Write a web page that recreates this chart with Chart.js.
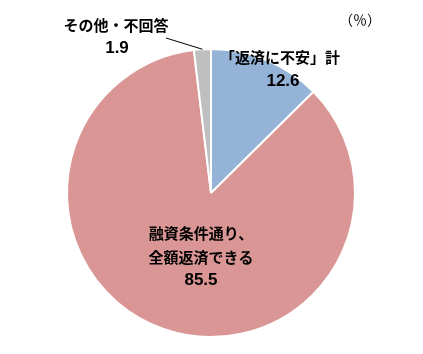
<!DOCTYPE html>
<html>
<head>
<meta charset="utf-8">
<script src="https://cdn.jsdelivr.net/npm/chart.js@4.4.0/dist/chart.umd.min.js"></script>
<style>
    html, body { margin: 0; padding: 0; background: #fff; }
    #wrap { width: 423px; height: 354px; position: relative; }
</style>
</head>
<body>
<div id="wrap"><canvas id="myChart"></canvas></div>
<script>
// Data Definitions
const categories = ['「返済に不安」計', '融資条件通り、\n全額返済できる', 'その他・不回答'];
const values = [12.6, 85.5, 1.9];
const sliceColors = ['#95B3D7', '#D99694', '#BFBFBF'];
const unitLabel = '（％）';

const jpFont = '"Noto Sans CJK JP", "Noto Sans", sans-serif';
const numFont = 'bold 17px "Liberation Sans", Arial, sans-serif';

// Draw slice labels and the leader line for the small slice
const labelPlugin = {
    id: 'sliceLabels',
    afterDatasetsDraw(chart) {
        const ctx = chart.ctx;
        const arcs = chart.getDatasetMeta(0).data;
        ctx.save();
        ctx.fillStyle = '#000';
        ctx.textAlign = 'center';
        ctx.textBaseline = 'middle';

        // unit
        ctx.font = '14px ' + jpFont;
        ctx.fillText(unitLabel, 360, 20);

        // blue slice
        ctx.font = 'bold 15px ' + jpFont;
        ctx.fillText(categories[0], 280, 57);
        ctx.font = numFont;
        ctx.fillText(values[0].toFixed(1), 283, 81);

        // pink slice
        const lines = categories[1].split('\n');
        ctx.font = 'bold 15px ' + jpFont;
        ctx.fillText(lines[0], 201, 233);
        ctx.fillText(lines[1], 201, 257);
        ctx.font = numFont;
        ctx.fillText(values[1].toFixed(1), 201, 280);

        // gray slice, outside with leader line
        ctx.font = 'bold 15px ' + jpFont;
        ctx.fillText(categories[2], 116, 25);
        ctx.font = numFont;
        ctx.fillText(values[2].toFixed(1), 117, 48);

        const a = arcs[2];
        const mid = (a.startAngle + a.endAngle) / 2;
        const px = a.x + Math.cos(mid) * a.outerRadius;
        const py = a.y + Math.sin(mid) * a.outerRadius;
        ctx.strokeStyle = '#000';
        ctx.lineWidth = 1;
        ctx.beginPath();
        ctx.moveTo(166, 38);
        ctx.lineTo(px, py);
        ctx.stroke();
        ctx.restore();
    }
};

const ctx = document.getElementById('myChart').getContext('2d');
new Chart(ctx, {
    type: 'pie',
    data: {
        labels: categories,
        datasets: [{
            data: values,
            backgroundColor: sliceColors,
            borderColor: '#FFFFFF',
            borderWidth: 2
        }]
    },
    options: {
        responsive: true,
        maintainAspectRatio: false,
        animation: false,
        layout: {
            padding: { top: 48, bottom: 16, left: 0, right: 1 }
        },
        plugins: {
            legend: { display: false },
            tooltip: { enabled: false }
        }
    },
    plugins: [labelPlugin]
});
</script>
</body>
</html>
